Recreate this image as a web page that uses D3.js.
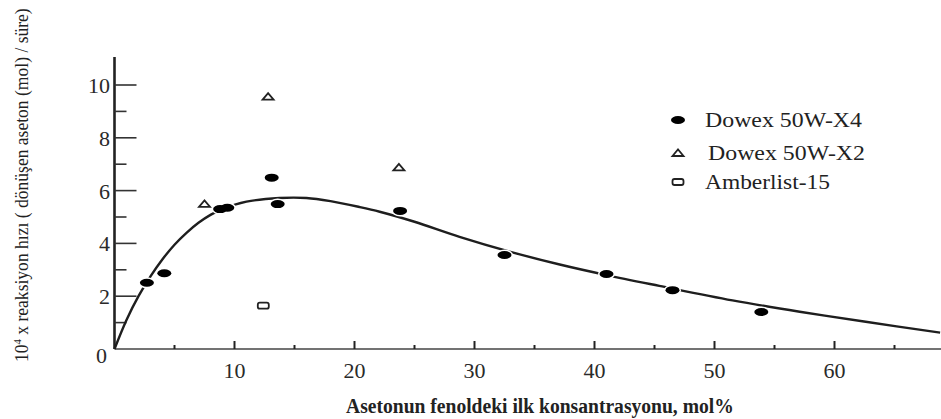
<!DOCTYPE html>
<html>
<head>
<meta charset="utf-8">
<script src="https://cdn.jsdelivr.net/npm/d3@7"></script>
<style>
  body { margin: 0; background: #fff; }
</style>
</head>
<body>
<div id="tablier"></div>
<script>
// Données (x = mol%, y = 10^4 x vitesse)
const x4_x = [2.7, 4.15, 8.8, 9.4, 13.1, 13.6, 23.8, 32.5, 41.0, 46.5, 53.9];
const x4_y = [2.51, 2.87, 5.3, 5.35, 6.49, 5.49, 5.23, 3.56, 2.84, 2.23, 1.40];
const x2_x = [7.5, 12.8, 23.7];
const x2_y = [5.5, 9.56, 6.88];
const amb_x = [12.4];
const amb_y = [1.64];

// Courbe tracée à la main sur l'original
const courbe_x = [0, 1, 2, 3, 4, 5, 6, 7, 8, 9, 11, 13.75, 16, 18, 20.4, 22.1, 25, 28.75, 33, 37.1, 41, 45.4, 51.5, 57.1, 62.6, 68.8];
const courbe_y = [0, 1.1, 2.0, 2.75, 3.4, 3.95, 4.4, 4.78, 5.08, 5.3, 5.58, 5.72, 5.72, 5.6, 5.38, 5.2, 4.82, 4.25, 3.68, 3.2, 2.8, 2.39, 1.84, 1.41, 1.03, 0.62];

const ticks_x = [10, 20, 30, 40, 50, 60];
const ticks_x_mineurs = [5, 15, 25, 35, 45, 55, 65];
const ticks_y = [2, 4, 6, 8, 10];
const ticks_y_mineurs = [1, 3, 5, 7, 9];

const legende = ["Dowex 50W-X4", "Dowex 50W-X2", "Amberlist-15"];
const titre_x = "Asetonun fenoldeki ilk konsantrasyonu, mol%";

const largeur = 941, hauteur = 419;
const police = "'Liberation Serif', 'Times New Roman', 'DejaVu Serif', serif";
const x = d3.scaleLinear().domain([0, 60]).range([114.5, 834.5]);
const y = d3.scaleLinear().domain([0, 10]).range([349, 85]);

const svg = d3.select("#tablier").append("svg")
  .attr("width", largeur)
  .attr("height", hauteur)
  .style("display", "block")
  .attr("font-family", police);

svg.append("rect").attr("width", "100%").attr("height", "100%").attr("fill", "white");

/* Texte placé en (tx, ty), tourné de r degrés, étiré pour faire "longueur" pixels */
function texteEtire(parent, tx, ty, r, longueur, taille) {
  let t = parent.append("text")
    .attr("font-family", police)
    .attr("font-size", taille)
    .attr("fill", "#222");
  t.ajuster = function() {
    let l = t.node().getComputedTextLength();
    t.attr("transform", "translate(" + tx + "," + ty + ") rotate(" + r + ") scale(" + (longueur / l) + ",1)");
    return t;
  };
  return t;
}

// Axe des x : ligne jusqu'au bord droit, graduations vers le haut
svg.append("line")
  .attr("x1", x(0)).attr("x2", largeur)
  .attr("y1", y(0)).attr("y2", y(0))
  .attr("stroke", "#444").attr("stroke-width", 1.6);

svg.selectAll(".tx").data(ticks_x).join("line")
  .attr("class", "tx")
  .attr("x1", d => x(d)).attr("x2", d => x(d))
  .attr("y1", y(0)).attr("y2", y(0) - 8)
  .attr("stroke", "#222").attr("stroke-width", 2);

svg.selectAll(".txm").data(ticks_x_mineurs).join("line")
  .attr("class", "txm")
  .attr("x1", d => x(d)).attr("x2", d => x(d))
  .attr("y1", y(0)).attr("y2", y(0) - 4)
  .attr("stroke", "#222").attr("stroke-width", 2);

svg.selectAll(".lx").data(ticks_x).join("text")
  .attr("class", "lx")
  .attr("x", d => x(d)).attr("y", 378)
  .attr("text-anchor", "middle")
  .attr("font-family", police)
  .attr("font-size", 22)
  .attr("fill", "#2a2a2a")
  .text(d => d);

// Axe des y : graduations vers la droite
svg.append("line")
  .attr("x1", x(0)).attr("x2", x(0))
  .attr("y1", y(0)).attr("y2", y(11.06))
  .attr("stroke", "#222").attr("stroke-width", 2.6);

svg.selectAll(".ty").data(ticks_y).join("line")
  .attr("class", "ty")
  .attr("x1", x(0)).attr("x2", x(0) + 22)
  .attr("y1", d => y(d)).attr("y2", d => y(d))
  .attr("stroke", "#333").attr("stroke-width", 1.6);

svg.selectAll(".tym").data(ticks_y_mineurs).join("line")
  .attr("class", "tym")
  .attr("x1", x(0)).attr("x2", x(0) + 12)
  .attr("y1", d => y(d)).attr("y2", d => y(d))
  .attr("stroke", "#333").attr("stroke-width", 1.6);

svg.selectAll(".ly").data(ticks_y).join("text")
  .attr("class", "ly")
  .attr("x", 110).attr("y", d => y(d) + 8)
  .attr("text-anchor", "end")
  .attr("font-family", police)
  .attr("font-size", 22)
  .attr("fill", "#2a2a2a")
  .text(d => d);

// le zéro commun, dans le coin
svg.append("text")
  .attr("x", 107).attr("y", 363)
  .attr("text-anchor", "end")
  .attr("font-family", police)
  .attr("font-size", 22)
  .attr("fill", "#2a2a2a")
  .text("0");

// Titres
texteEtire(svg, 346, 413, 0, 388, 20)
  .attr("font-weight", "bold")
  .text(titre_x)
  .ajuster();

const titre_y = texteEtire(svg, 28, 362, -90, 354, 18);
titre_y.append("tspan").text("10");
titre_y.append("tspan").attr("dy", -7).attr("font-size", 11).text("4");
titre_y.append("tspan").attr("dy", 7).text(" x reaksiyon hızı ( dönüşen aseton (mol) / süre)");
titre_y.ajuster();

// Courbe
const ligne = d3.line()
  .x(d => x(d[0])).y(d => y(d[1]))
  .curve(d3.curveCatmullRom);

svg.append("path")
  .attr("d", ligne(d3.zip(courbe_x, courbe_y)))
  .attr("fill", "none")
  .attr("stroke", "#1e1e1e")
  .attr("stroke-width", 2.4);

// Marqueurs
function halo(g, cx, cy) {
  g.append("ellipse")
    .attr("cx", cx).attr("cy", cy)
    .attr("rx", 8.5).attr("ry", 5.5)
    .attr("fill", "white");
}
function ellipse(g, cx, cy) {
  g.append("ellipse")
    .attr("cx", cx).attr("cy", cy)
    .attr("rx", 7).attr("ry", 4)
    .attr("fill", "black");
}
function triangle(g, cx, cy) {
  g.append("path")
    .attr("d", "M" + (cx - 5.5) + "," + (cy + 3) + " L" + cx + "," + (cy - 3.5) + " " + (cx + 5.5) + "," + (cy + 3) + " Z")
    .attr("fill", "white")
    .attr("stroke", "#222").attr("stroke-width", 1.8);
}
function carre(g, cx, cy) {
  g.append("rect")
    .attr("x", cx - 5.5).attr("y", cy - 3)
    .attr("width", 11).attr("height", 6)
    .attr("rx", 2)
    .attr("fill", "white")
    .attr("stroke", "#222").attr("stroke-width", 1.8);
}

// d'abord les halos blancs (coupent la courbe), puis les points
const halos = svg.append("g");
for (let i = 0; i < x4_x.length; i++) halo(halos, x(x4_x[i]), y(x4_y[i]));
const points = svg.append("g");
for (let i = 0; i < x4_x.length; i++) ellipse(points, x(x4_x[i]), y(x4_y[i]));
for (let i = 0; i < x2_x.length; i++) triangle(points, x(x2_x[i]), y(x2_y[i]));
for (let i = 0; i < amb_x.length; i++) carre(points, x(amb_x[i]), y(amb_y[i]));

// Légende
const leg = svg.append("g");
const leg_y = [120, 153, 182];
const leg_marq = [ellipse, triangle, carre];
for (let i = 0; i < legende.length; i++) {
  leg_marq[i](leg, 678, leg_y[i]);
  texteEtire(leg, i == 1 ? 708 : 705, leg_y[i] + 7, 0, i == 2 ? 125 : 157, 21)
    .text(legende[i])
    .ajuster();
}
</script>
</body>
</html>
